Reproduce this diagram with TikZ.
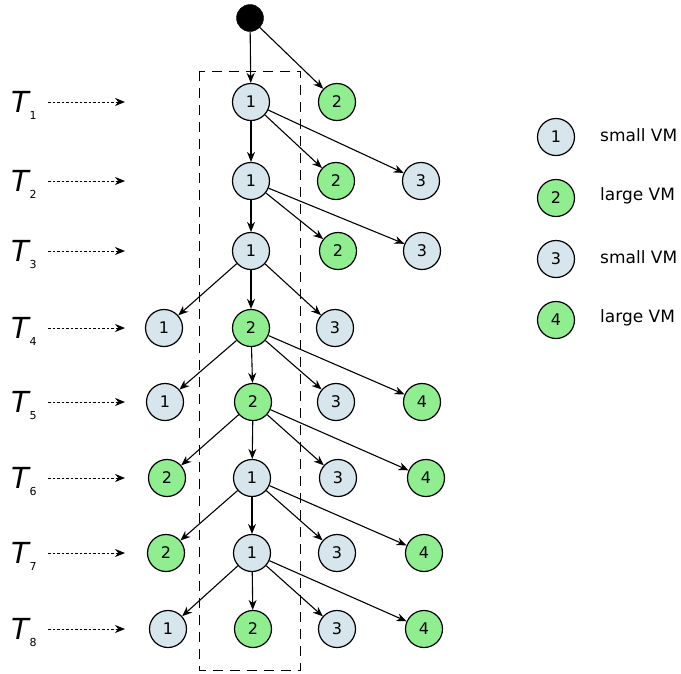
\documentclass[tikz,border=0pt]{standalone}
\usepackage{fontspec}
\setmainfont{DejaVu Sans}
\usetikzlibrary{arrows.meta}
\definecolor{smallc}{RGB}{214,230,236}
\definecolor{largec}{RGB}{144,238,144}
\tikzset{
  vm/.style={circle, draw=black, line width=1.2pt, minimum size=37pt, inner sep=0pt, font=\fontsize{16}{16}\selectfont},
  sm/.style={vm, fill=smallc},
  lg/.style={vm, fill=largec},
  edge/.style={line width=1.1pt, -{Stealth[length=10pt,width=8pt]}},
  tarrow/.style={line width=1pt, dash pattern=on 2.5pt off 2pt, -{Stealth[length=10pt,width=8pt]}},
  tlab/.style={inner sep=0pt, anchor=base west},
  tsub/.style={inner sep=0pt, anchor=base west, font=\fontsize{11}{11}\selectfont},
  legtext/.style={anchor=west, inner sep=0pt, font=\fontsize{17}{17}\selectfont}
}
\begin{document}
\begin{tikzpicture}[x=1pt,y=-1pt]
\useasboundingbox (0,0) rectangle (681,673);
% dashed box
\draw[line width=1pt, dash pattern=on 10pt off 7pt] (199.5,71) rectangle (300,670);
% start
\node[circle, fill=black, draw=black, minimum size=27pt, inner sep=0pt] (s) at (250,18) {};
% rows
\node[sm] (a1) at (251,102) {1};
\node[lg] (a2) at (337,102) {2};
\node[sm] (b1) at (251,181) {1};
\node[lg] (b2) at (336,181) {2};
\node[sm] (b3) at (421,181) {3};
\node[sm] (c1) at (251,251) {1};
\node[lg] (c2) at (338,251) {2};
\node[sm] (c3) at (422,251) {3};
\node[sm] (d1) at (164,328) {1};
\node[lg] (d2) at (251,328) {2};
\node[sm] (d3) at (335,328) {3};
\node[sm] (e1) at (165,402) {1};
\node[lg] (e2) at (253,402) {2};
\node[sm] (e3) at (336,402) {3};
\node[lg] (e4) at (422,402) {4};
\node[lg] (f2) at (167,478) {2};
\node[sm] (f1) at (252,478) {1};
\node[sm] (f3) at (338,478) {3};
\node[lg] (f4) at (426,478) {4};
\node[lg] (g2) at (166,553) {2};
\node[sm] (g1) at (252,553) {1};
\node[sm] (g3) at (337,553) {3};
\node[lg] (g4) at (424,553) {4};
\node[sm] (h1) at (168,629) {1};
\node[lg] (h2) at (253,629) {2};
\node[sm] (h3) at (337,629) {3};
\node[lg] (h4) at (424,629) {4};
% edges
\draw[edge] (s) -- (a1);
\draw[edge] (s) -- (a2);
\foreach \t in {b1,b2,b3} \draw[edge] (a1) -- (\t);
\foreach \t in {c1,c2,c3} \draw[edge] (b1) -- (\t);
\foreach \t in {d1,d2,d3} \draw[edge] (c1) -- (\t);
\foreach \t in {e1,e2,e3,e4} \draw[edge] (d2) -- (\t);
\foreach \t in {f2,f1,f3,f4} \draw[edge] (e2) -- (\t);
\foreach \t in {g2,g1,g3,g4} \draw[edge] (f1) -- (\t);
\foreach \t in {h1,h2,h3,h4} \draw[edge] (g1) -- (\t);
% time labels
\foreach \i/\y in {1/102,2/181,3/251,4/328,5/402,6/478,7/553,8/629} {
  \node[tlab] (T\i) at (11,\y+10) {\fontsize{29}{29}\selectfont\itshape T};
  \node[tsub] (S\i) at (29.5,\y+17) {\i};
  \coordinate (ts\i) at (48,\y);
  \coordinate (te\i) at (125,\y);
  \draw[tarrow] (ts\i) -- (te\i);
}
% legend
\node[sm] (l1) at (556,137) {1};
\node[lg] (l2) at (556,198) {2};
\node[sm] (l3) at (556,259) {3};
\node[lg] (l4) at (556,320) {4};
\node[legtext] (lt1) at (600,135) {small VM};
\node[legtext] (lt2) at (600,196) {large VM};
\node[legtext] (lt3) at (600,257) {small VM};
\node[legtext] (lt4) at (600,318) {large VM};
\end{tikzpicture}
\end{document}
